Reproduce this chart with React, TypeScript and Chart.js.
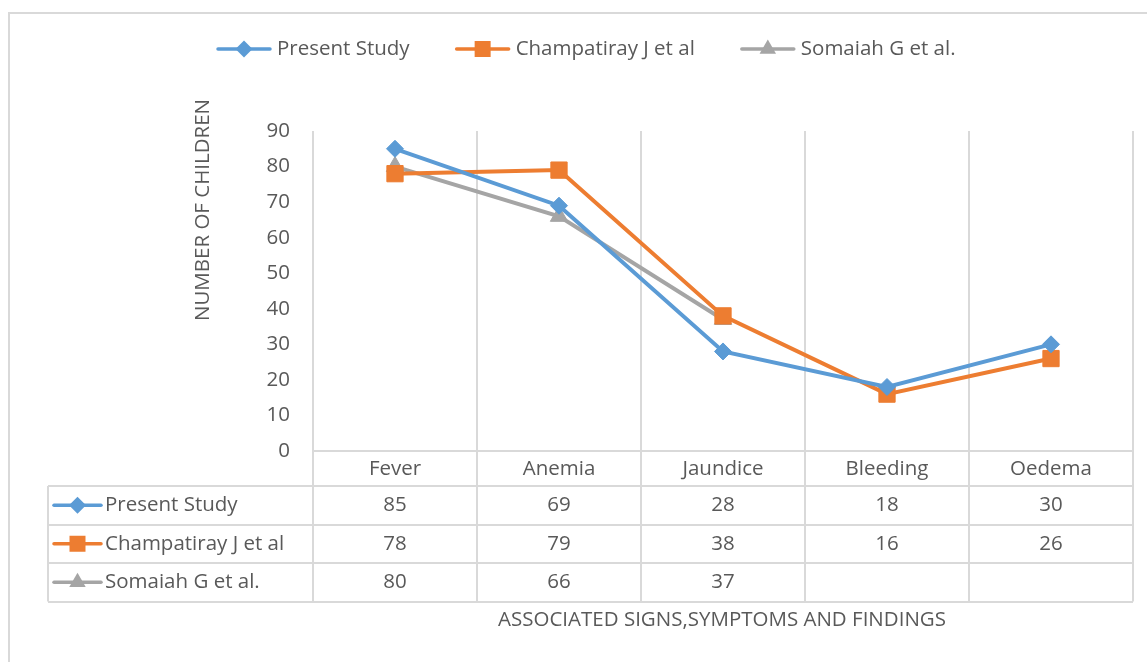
import React, { useEffect, useRef } from 'react';
import { Chart, registerables } from 'chart.js';

Chart.register(...registerables);

const categories = ['Fever', 'Anemia', 'Jaundice', 'Bleeding', 'Oedema'];
const seriesNames = ['Present Study', 'Champatiray J et al', 'Somaiah G et al.'];
const presentStudy = [85, 69, 28, 18, 30];
const champatiray = [78, 79, 38, 16, 26];
const somaiah: (number | null)[] = [80, 66, 37, null, null];
const yTickLabels = [0, 10, 20, 30, 40, 50, 60, 70, 80, 90];
const yTitle = 'NUMBER OF CHILDREN';
const xTitle = 'ASSOCIATED SIGNS,SYMPTOMS AND FINDINGS';

const colors = ['#5b9bd5', '#ed7d31', '#a5a5a5'];
const shapes = ['diamond', 'square', 'triangle'];
const FONT = '"Open Sans", "Liberation Sans", sans-serif';
const FS = 20.5;
const TEXT = '#595959';
const GRID = '#d9d9d9';

function drawMarker(ctx: CanvasRenderingContext2D, shape: string, x: number, y: number, color: string) {
  ctx.save();
  ctx.fillStyle = color;
  ctx.beginPath();
  if (shape === 'diamond') {
    const r = 8.5;
    ctx.moveTo(x, y - r); ctx.lineTo(x + r, y); ctx.lineTo(x, y + r); ctx.lineTo(x - r, y);
  } else if (shape === 'square') {
    const s = 8;
    ctx.rect(x - s, y - s, 2 * s, 2 * s);
  } else {
    const r = 9.5;
    ctx.moveTo(x, y - r); ctx.lineTo(x + r * 0.866, y + r * 0.5); ctx.lineTo(x - r * 0.866, y + r * 0.5);
  }
  ctx.closePath();
  ctx.fill();
  ctx.restore();
}

function drawKey(ctx: CanvasRenderingContext2D, i: number, x0: number, y: number, w: number) {
  ctx.save();
  ctx.strokeStyle = colors[i];
  ctx.lineWidth = 3.5;
  ctx.lineCap = 'round';
  ctx.beginPath();
  ctx.moveTo(x0, y); ctx.lineTo(x0 + w, y);
  ctx.stroke();
  ctx.restore();
  drawMarker(ctx, shapes[i], x0 + w / 2, y, colors[i]);
}

const decorPlugin = {
  id: 'decor',
  beforeDatasetsDraw(chart: any) {
    const ctx: CanvasRenderingContext2D = chart.ctx;
    const xs = chart.scales.x;
    const ys = chart.scales.y;
    const area = chart.chartArea;
    const n = categories.length;
    const colW = (xs.getPixelForValue(1) - xs.getPixelForValue(0));
    const left = xs.getPixelForValue(0) - colW / 2;
    const right = xs.getPixelForValue(n - 1) + colW / 2;
    const y0 = ys.getPixelForValue(0);
    const rowH = [35, 38.5, 38.5, 38.5];
    const tableLeft = 48;
    const rowYs = [y0];
    rowH.forEach((h) => rowYs.push(rowYs[rowYs.length - 1] + h));
    const tableBottom = rowYs[rowYs.length - 1];

    ctx.save();
    // frame
    ctx.strokeStyle = GRID;
    ctx.lineWidth = 2;
    ctx.beginPath();
    ctx.moveTo(9, 700); ctx.lineTo(9, 13); ctx.lineTo(1200, 13);
    ctx.stroke();

    // vertical grid lines
    ctx.lineWidth = 2;
    for (let i = 0; i <= n; i++) {
      const x = Math.round(left + i * colW);
      ctx.beginPath();
      ctx.moveTo(x, area.top); ctx.lineTo(x, tableBottom);
      ctx.stroke();
    }
    // horizontal table lines
    rowYs.forEach((yy, k) => {
      ctx.beginPath();
      ctx.moveTo(k === 0 ? left : tableLeft, Math.round(yy));
      ctx.lineTo(right, Math.round(yy));
      ctx.stroke();
    });
    ctx.beginPath();
    ctx.moveTo(tableLeft, rowYs[1]); ctx.lineTo(tableLeft, tableBottom);
    ctx.stroke();

    ctx.fillStyle = TEXT;
    ctx.font = `${FS}px ${FONT}`;
    ctx.textBaseline = 'middle';
    // y ticks
    ctx.textAlign = 'right';
    yTickLabels.forEach((v) => {
      ctx.fillText(String(v), 290, ys.getPixelForValue(v));
    });
    // category header
    ctx.textAlign = 'center';
    categories.forEach((c, i) => {
      ctx.fillText(c, xs.getPixelForValue(i), (rowYs[0] + rowYs[1]) / 2 + 1);
    });
    // table rows
    const all = [presentStudy, champatiray, somaiah];
    all.forEach((arr, r) => {
      const cy = (rowYs[r + 1] + rowYs[r + 2]) / 2;
      drawKey(ctx, r, 54, cy, 47);
      ctx.fillStyle = TEXT;
      ctx.textAlign = 'left';
      ctx.fillText(seriesNames[r], 105, cy);
      ctx.textAlign = 'center';
      arr.forEach((v, i) => {
        if (v !== null && v !== undefined) ctx.fillText(String(v), xs.getPixelForValue(i), cy);
      });
    });

    // x title
    ctx.textAlign = 'center';
    ctx.fillText(xTitle, 722, 620);
    // y title
    ctx.save();
    ctx.translate(203, 210);
    ctx.rotate(-Math.PI / 2);
    ctx.fillText(yTitle, 0, 0);
    ctx.restore();

    // legend
    ctx.font = `${FS}px ${FONT}`;
    const keyW = 52, gapKT = 7, gapItems = 47;
    const widths = seriesNames.map((s) => keyW + gapKT + ctx.measureText(s).width);
    let x = 218;
    const ly = 49;
    seriesNames.forEach((s, i) => {
      drawKey(ctx, i, x, ly, keyW);
      ctx.fillStyle = TEXT;
      ctx.textAlign = 'left';
      ctx.fillText(s, x + keyW + gapKT, ly);
      x += widths[i] + gapItems;
    });
    ctx.restore();
  },
};

export default function App() {
  const ref = useRef<HTMLCanvasElement>(null);
  useEffect(() => {
    document.body.style.margin = '0';
    const canvas = ref.current!;
    const chart = new Chart(canvas, {
      type: 'line',
      data: {
        labels: categories,
        datasets: [
          {
            label: seriesNames[0], data: presentStudy, borderColor: colors[0], backgroundColor: colors[0],
            borderWidth: 4, pointStyle: 'rectRot', pointRadius: 8.5, pointBorderWidth: 1, tension: 0,
          },
          {
            label: seriesNames[1], data: champatiray, borderColor: colors[1], backgroundColor: colors[1],
            borderWidth: 4, pointStyle: 'rect', pointRadius: 11.5, pointBorderWidth: 1, tension: 0,
          },
          {
            label: seriesNames[2], data: somaiah, borderColor: colors[2], backgroundColor: colors[2],
            borderWidth: 4, pointStyle: 'triangle', pointRadius: 10, pointBorderWidth: 1, tension: 0,
          },
        ],
      },
      options: {
        responsive: false,
        animation: false,
        clip: false,
        layout: { padding: { left: 313, right: 14, top: 131, bottom: 662 - 451 } },
        plugins: { legend: { display: false }, title: { display: false }, tooltip: { enabled: false } },
        scales: {
          x: { type: 'category', offset: true, display: false },
          y: { min: 0, max: 90, display: false },
        },
      },
      plugins: [decorPlugin],
    });
    return () => chart.destroy();
  }, []);
  return (
    <div style={{ position: 'relative', width: 1147, height: 662, overflow: 'hidden', background: '#fff' }}>
      <canvas ref={ref} width={1147} height={662} style={{ display: 'block' }} />
    </div>
  );
}
